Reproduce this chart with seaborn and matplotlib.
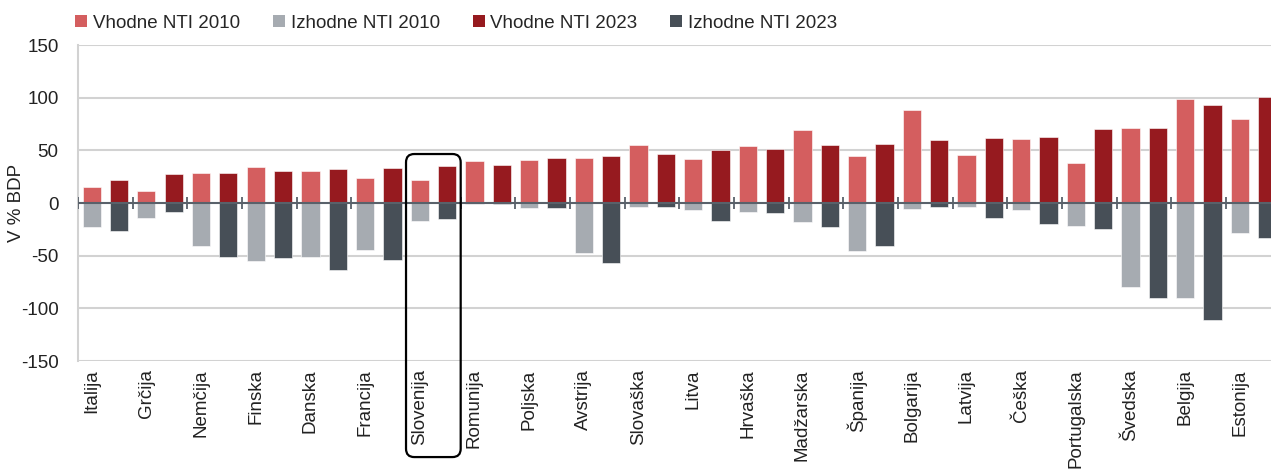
import numpy as np
import pandas as pd
import matplotlib
matplotlib.use("Agg")
import matplotlib.pyplot as plt
import matplotlib.transforms as mtransforms
from matplotlib.patches import Patch, FancyBboxPatch
import seaborn as sns

countries = ["Italija", "Grčija", "Nemčija", "Finska", "Danska", "Francija", "Slovenija",
             "Romunija", "Poljska", "Avstrija", "Slovaška", "Litva", "Hrvaška", "Madžarska",
             "Španija", "Bolgarija", "Latvija", "Češka", "Portugalska", "Švedska", "Belgija",
             "Estonija"]
in_2010 = [15.2, 11.4, 28.2, 34.2, 30.1, 23.7, 22.2, 40.2, 40.8, 42.4, 55.1, 41.5, 54.1, 69.3,
           44.3, 88.6, 45.3, 60.8, 38.0, 70.9, 98.4, 79.4]
out_2010 = [-23.1, -14.2, -40.5, -55.1, -51.6, -44.3, -17.1, -1.3, -5.1, -47.8, -3.5, -7.0, -8.2,
            -18.0, -45.9, -5.4, -3.5, -7.0, -22.2, -79.4, -89.9, -28.2]
in_2023 = [21.5, 27.2, 28.2, 30.1, 32.3, 33.2, 35.4, 35.8, 42.7, 44.6, 46.8, 50.3, 51.6, 55.1,
           56.3, 60.1, 61.7, 63.0, 70.3, 71.2, 93.1, 100.3]
out_2023 = [-26.9, -8.9, -51.6, -51.9, -63.6, -53.8, -14.9, -1.3, -4.7, -57.0, -3.8, -16.8, -9.8,
            -22.5, -40.5, -4.1, -14.6, -19.9, -25.0, -89.9, -110.8, -32.9]
series_labels = ["Vhodne NTI 2010", "Izhodne NTI 2010", "Vhodne NTI 2023", "Izhodne NTI 2023"]
highlight = "Slovenija"
y_ticks = [150, 100, 50, 0, -50, -100, -150]

c_in10, c_out10, c_in23, c_out23 = "#d45e5f", "#a6abb1", "#961a1f", "#474f57"

df_in = pd.DataFrame({"country": countries * 2, "year": ["2010"] * 22 + ["2023"] * 22,
                      "value": in_2010 + in_2023})
df_out = pd.DataFrame({"country": countries * 2, "year": ["2010"] * 22 + ["2023"] * 22,
                       "value": out_2010 + out_2023})

sns.set_theme(style="white")
plt.rcParams["font.family"] = ["Liberation Sans", "DejaVu Sans"]

fig = plt.figure(figsize=(12.71, 4.72), dpi=100)
ax = fig.add_axes([78 / 1271, 1 - 361 / 472, (1271 - 78) / 1271, 316 / 472])

sns.barplot(data=df_in, x="country", y="value", hue="year", order=countries,
            hue_order=["2010", "2023"], palette={"2010": c_in10, "2023": c_in23},
            width=1.0, gap=0.33, dodge=True, legend=False, ax=ax, zorder=3,
            saturation=1, edgecolor="white", linewidth=0.4)
sns.barplot(data=df_out, x="country", y="value", hue="year", order=countries,
            hue_order=["2010", "2023"], palette={"2010": c_out10, "2023": c_out23},
            width=1.0, gap=0.33, dodge=True, legend=False, ax=ax, zorder=3,
            saturation=1, edgecolor="white", linewidth=0.4)

n = len(countries)
ax.set_xlim(-0.5, (1271 - 78) / 54.67 - 0.5)
ax.set_ylim(-150, 150)
ax.set_yticks(y_ticks)
ax.set_yticklabels([str(v) for v in y_ticks], fontsize=13.5, color="#222222")
ax.set_xticks(np.arange(n) - 0.25)
ax.set_xticklabels(countries, rotation=90, fontsize=13.5, color="#222222", va="top", ha="center")
ax.tick_params(axis="y", length=0, pad=14)
ax.tick_params(axis="x", length=0, pad=6)
ax.set_xlabel("")
ax.set_ylabel("V % BDP", fontsize=13.5, color="#222222")
ax.yaxis.set_label_coords((25 - 78) / 1193, 0.5)

for v in y_ticks:
    if v != 0:
        ax.axhline(v, color="#d2d2d2", lw=1.5, zorder=1)
ax.axhline(0, color="#59616a", lw=1.5, zorder=4)
ax.vlines(np.arange(n + 1) - 0.5, -5.8, 5.8, color="#59616a", lw=1.3, zorder=4)

for s in ["top", "right", "bottom"]:
    ax.spines[s].set_visible(False)
ax.spines["left"].set_color("#d2d2d2")
ax.spines["left"].set_linewidth(1.5)

# highlight box around Slovenia
idx = countries.index(highlight)
trans = mtransforms.blended_transform_factory(ax.transData, ax.transAxes)
box = FancyBboxPatch((idx - 0.5, -0.304), 1.0, 0.655 + 0.304,
                     boxstyle="round,pad=0,rounding_size=0.15", mutation_aspect=0.175,
                     transform=trans, fill=False, edgecolor="black", lw=1.6,
                     clip_on=False, zorder=6)
ax.add_patch(box)

handles = [Patch(facecolor=c, edgecolor="none") for c in [c_in10, c_out10, c_in23, c_out23]]
fig.legend(handles, series_labels, loc="center left", bbox_to_anchor=(75 / 1271, 1 - 23 / 472),
           ncol=4, frameon=False, fontsize=13.5, handlelength=0.65, handleheight=0.65,
           handletextpad=0.3, columnspacing=1.75, borderaxespad=0, borderpad=0)

fig.savefig("out.png", dpi=100)
